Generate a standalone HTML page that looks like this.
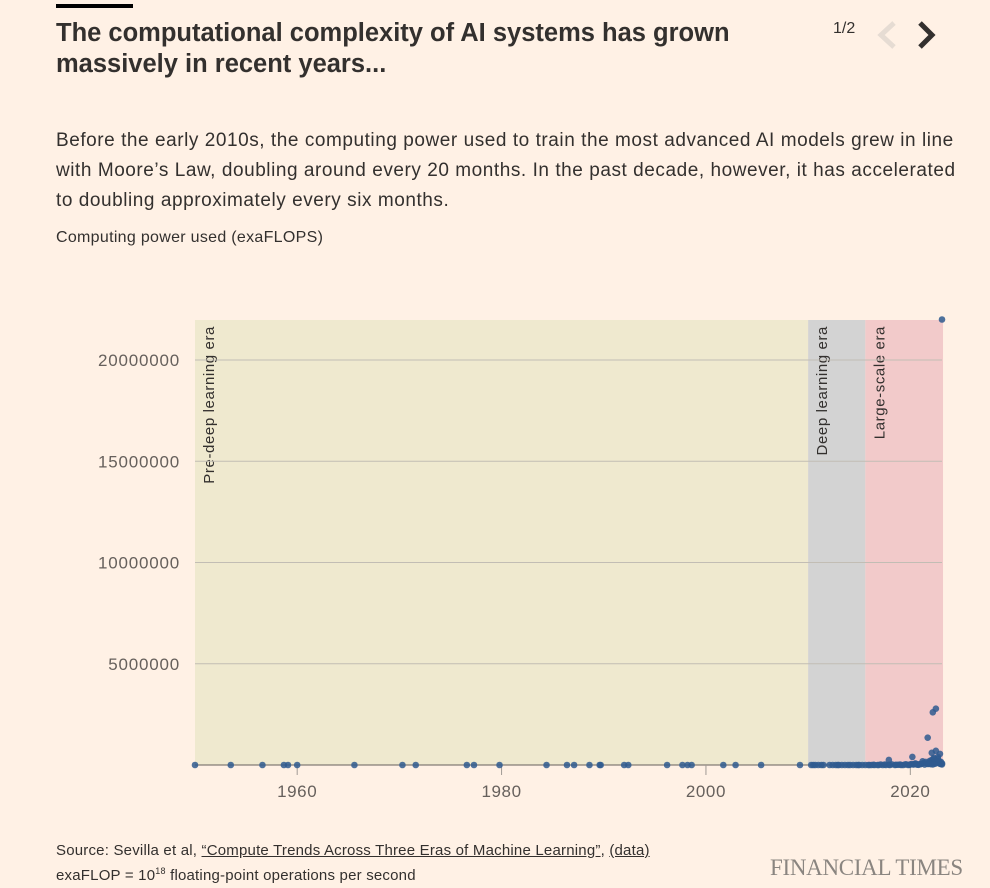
<!DOCTYPE html>
<html><head><meta charset="utf-8">
<style>
body{margin:0;background:#fff1e5;width:990px;height:888px;overflow:hidden;font-family:"Liberation Sans",sans-serif;color:#33302e;position:relative}
.abs{position:absolute}
</style></head><body>
<div class="abs" style="left:56px;top:4px;width:77px;height:4px;background:#000"></div>
<div class="abs" style="left:56px;top:18px;width:740px;font-size:25.5px;font-weight:bold;line-height:31px;color:#33302e">The computational complexity of AI systems has grown massively in recent years...</div>
<div class="abs" style="left:833px;top:20px;font-size:16px">1/2</div>
<svg class="abs" style="left:872px;top:18px" width="70" height="34">
<polyline points="22,5 9,17 22,29" fill="none" stroke="#e6dcd3" stroke-width="5"/>
<polyline points="48,5 60,17 48,29" fill="none" stroke="#33302e" stroke-width="5"/>
</svg>
<div class="abs" style="left:56px;top:126px;width:905px;font-size:19px;letter-spacing:0.55px;line-height:30px;color:#33302e">Before the early 2010s, the computing power used to train the most advanced AI models grew in line with Moore’s Law, doubling around every 20 months. In the past decade, however, it has accelerated to doubling approximately every six months.</div>
<div class="abs" style="left:56px;top:229px;font-size:16px;letter-spacing:0.3px">Computing power used (exaFLOPS)</div>
<svg id="chart" class="abs" style="left:0;top:280px" width="990" height="520"></svg>
<div class="abs" style="left:56px;top:841px;font-size:15px;letter-spacing:0.2px;line-height:20px">Source: Sevilla et al, <span style="text-decoration:underline">“Compute Trends Across Three Eras of Machine Learning”</span>, <span style="text-decoration:underline">(data)</span><br>exaFLOP = 10<sup style="font-size:9px">18</sup> floating-point operations per second</div>
<div class="abs" style="left:770px;top:855px;font-family:'Liberation Serif',serif;font-size:23px;color:#8a8580;letter-spacing:-0.3px">FINANCIAL TIMES</div>
<script>
const xTicks=[1960,1980,2000,2020];
const yTicks=[5000000,10000000,15000000,20000000];
const eras=[{name:"Pre-deep learning era",start:1950,end:2010},{name:"Deep learning era",start:2010,end:2015.6},{name:"Large-scale era",start:2015.6,end:2023.2}];
const eraColors=["#efe9cf","#d3d3d3","#f2caca"];
const years=[1950.0,1953.5,1956.6,1958.7,1959.1,1960.0,1965.6,1970.3,1971.6,1976.6,1977.3,1979.8,1984.4,1986.4,1987.1,1988.6,1989.6,1989.7,1992.0,1992.4,1996.2,1997.7,1998.2,1998.6,2001.7,2002.9,2005.4,2009.2,2010.3,2010.5,2010.7,2011,2011.3,2012.1,2012.4,2012.7,2013,2013.3,2013.6,2013.9,2014.1,2014.4,2014.7,2015,2015.3,2015.6,2015.9,2016.2,2016.5,2016.8,2017.1,2017.3,2017.6,2017.9,2018.2,2018.5,2018.8,2019,2019.3,2019.6,2019.9,2020.1,2020.3,2020.5,2020.7,2020.9,2021.1,2021.3,2021.5,2021.7,2021.9,2022,2022.1,2022.2,2022.3,2022.4,2022.5,2022.6,2022.7,2022.8,2022.9,2023,2023.1,2021.7,2022.2,2022.5,2023.1,2017.9,2020.2,2021.2,2022.1,2022.5,2022.3,2021.8,2016.0,2016.4,2016.9,2017.5,2018.0,2018.6,2019.1,2019.5,2019.8,2020.0,2020.4,2020.6,2020.8,2021.0,2021.4,2021.6,2021.8,2022.0,2022.2,2022.4,2022.6,2022.8,2023.0,2022.7,2022.9,2023.1,2011.5,2012.9,2014.9];
const values=[0,0,0,0,0,0,0,0,0,0,0,0,0,0,0,0,0,0,0,0,0,0,0,0,0,0,0,0,0,0,0,0,0,0,0,0,0,0,0,0,0,0,0,0,0,0,0,0,0,0,20000,0,0,10000,30000,0,10000,20000,0,30000,10000,50000,20000,80000,20000,40000,60000,100000,150000,50000,200000,100000,250000,80000,300000,150000,120000,200000,400000,100000,60000,150000,80000,1350000,2600000,2780000,22000000,250000,400000,180000,600000,700000,350000,120000,0,10000,0,20000,0,10000,0,30000,0,20000,50000,30000,10000,40000,20000,80000,60000,40000,30000,60000,100000,200000,50000,300000,550000,30000,0,0,0];
const svg=document.getElementById('chart');
const NS='http://www.w3.org/2000/svg';
const L=195,R=942,T=40,B=485;
const x=v=>L+(v-1950)*(R-L)/(2023.1-1950);
function yy(v){return B-v*(485-80)/20000000;}
function mk(tag,attrs){const e=document.createElementNS(NS,tag);for(const k in attrs)e.setAttribute(k,attrs[k]);svg.appendChild(e);return e;}
eras.forEach((e,i)=>{
 const r=mk('rect',{x:x(e.start),y:T,width:x(e.end)-x(e.start),height:B-T,fill:eraColors[i]});
 
 
 const tx=x(e.start)+19,ty=T+6;
 const t=mk('text',{x:0,y:0,transform:`translate(${tx},${ty}) rotate(-90)`,'text-anchor':'end','font-size':'15','letter-spacing':'0.6','fill':'#33302e'});
 t.textContent=e.name;
 
 
});
yTicks.forEach(v=>{
 const g=mk('line',{x1:L,x2:R,y1:yy(v),y2:yy(v),stroke:'#c2bdb4','stroke-width':1});
 
 
 const t=mk('text',{x:180,y:yy(v)+6,'text-anchor':'end','font-size':'17','letter-spacing':'0.8','fill':'#66605c'});
 t.textContent=String(v);
 
 
});
const ax=mk('line',{x1:L,x2:R,y1:B,y2:B,stroke:'#66605c','stroke-width':1});


xTicks.forEach(v=>{
 const l=mk('line',{x1:x(v),x2:x(v),y1:B,y2:B+10,stroke:'#a09a94'});
 
 
 const t=mk('text',{x:x(v),y:B+32,'text-anchor':'middle','font-size':'17','letter-spacing':'0.6','fill':'#66605c'});
 t.textContent=v;
 
 
});
years.forEach((yr,i)=>{
 const c=mk('circle',{cx:x(yr),cy:yy(values[i]),r:3.3,fill:'#2f5a8f','fill-opacity':0.85});
 
 
});
</script>
</body></html>
